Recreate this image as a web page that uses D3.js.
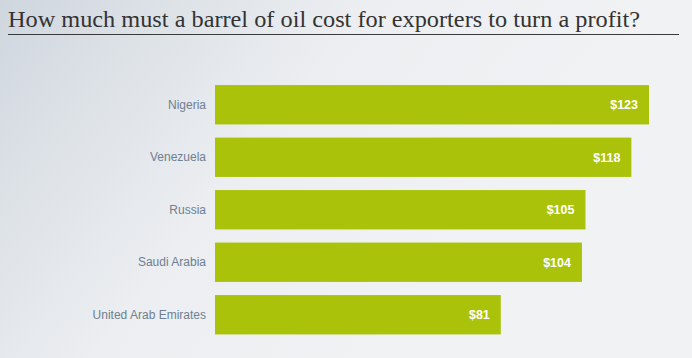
<!DOCTYPE html>
<html><head><meta charset="utf-8">
<script src="https://cdn.jsdelivr.net/npm/d3@7"></script>
<style>body{margin:0;padding:0;overflow:hidden}</style>
</head><body>
<svg id="c" width="692" height="358"></svg>
<script>
const categories = ["Nigeria", "Venezuela", "Russia", "Saudi Arabia", "United Arab Emirates"];
const values = [123, 118, 105, 104, 81];
const valueLabels = ["$123", "$118", "$105", "$104", "$81"];
const title = "How much must a barrel of oil cost for exporters to turn a profit?";

const svg = d3.select("#c");
const W = 692, H = 358;
const defs = svg.append("defs");
const g1 = defs.append("linearGradient").attr("id","bg").attr("gradientUnits","userSpaceOnUse")
  .attr("x1",0).attr("y1",0).attr("x2",420).attr("y2",330);
g1.append("stop").attr("offset","0%").attr("stop-color","#cfd6de");
g1.append("stop").attr("offset","25%").attr("stop-color","#dde2e7");
g1.append("stop").attr("offset","55%").attr("stop-color","#eceef1");
g1.append("stop").attr("offset","100%").attr("stop-color","#f1f2f4");
svg.append("rect").attr("width",W).attr("height",H).attr("fill","url(#bg)");

svg.append("text").attr("x",8).attr("y",27)
  .attr("font-family","'Liberation Serif', serif")
  .attr("font-size",24).attr("fill","#333333")
  .attr("textLength", 632).attr("lengthAdjust","spacingAndGlyphs").text(title);
svg.append("line").attr("x1",8).attr("x2",679).attr("y1",34.5).attr("y2",34.5)
  .attr("stroke","#3a3a3a").attr("stroke-width",1);

const x = d3.scaleLinear().domain([0,123]).range([215,649]);
const y = d3.scaleBand().domain(categories).range([78.5,341]).paddingInner(0.25).paddingOuter(0.125);

const data = categories.map((c,i)=>({c, v: values[i], l: valueLabels[i]}));

svg.selectAll("rect.bar").data(data).join("rect").attr("class","bar")
  .attr("x", x(0)).attr("y", d=>y(d.c)).attr("width", d=>x(d.v)-x(0)).attr("height", y.bandwidth())
  .attr("fill","#aac30a");

svg.selectAll("text.cat").data(data).join("text").attr("class","cat")
  .attr("x", 206).attr("y", d=>y(d.c)+y.bandwidth()/2).attr("dy","0.35em")
  .attr("text-anchor","end").attr("font-family","'Liberation Sans', Arial, sans-serif")
  .attr("font-size",12).attr("fill","#6f7f90").text(d=>d.c);

svg.selectAll("text.val").data(data).join("text").attr("class","val")
  .attr("x", d=>x(d.v)-11).attr("y", d=>y(d.c)+y.bandwidth()/2).attr("dy","0.35em")
  .attr("text-anchor","end").attr("font-family","'Liberation Sans', Arial, sans-serif")
  .attr("font-size",12.5).attr("font-weight","bold").attr("fill","#ffffff").text(d=>d.l);
</script>
</body></html>
